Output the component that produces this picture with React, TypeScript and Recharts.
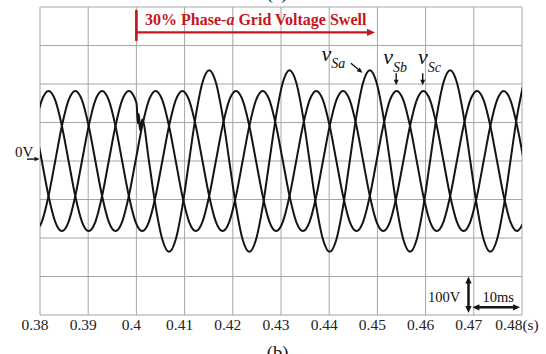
import { LineChart, Line, XAxis, YAxis, CartesianGrid, ReferenceLine, ReferenceDot } from 'recharts';

const SERIF = '"Liberation Serif", "Times New Roman", serif';
const RED = '#c4161c';
const INK = '#141414';

// sample instants in ms (30 deg steps at 60 Hz, plus the switching transient near 400 ms)
const timeMs = [
  378.99, 380.38, 381.77, 383.16, 384.54, 385.93, 387.32, 388.71, 390.10, 391.49, 392.88, 394.27, 395.66, 397.04, 398.43, 399.82,
  400.05, 400.30, 400.50, 400.75,
  401.21, 402.60, 403.99, 405.38, 406.77, 408.16, 409.54, 410.93, 412.32, 413.71, 415.10,
  416.49, 417.88, 419.27, 420.66, 422.04, 423.43, 424.82, 426.21, 427.60, 428.99, 430.38, 431.77,
  433.16, 434.54, 435.93, 437.32, 438.71, 440.10, 441.49, 442.88, 444.27, 445.66, 447.04, 448.43,
  449.82, 451.21, 452.60, 453.99, 455.38, 456.77, 458.16, 459.54, 460.93, 462.32, 463.71, 465.10,
  466.49, 467.88, 469.27, 470.66, 472.04, 473.43, 474.82, 476.21, 477.60, 478.99, 480.38,
];

// grid voltages in V (100 V per division)
const phaseA = [
  91, 158, 182, 158, 91, 0, -91, -158, -182, -158, -91, 0, 91, 158, 182, 158,
  148, 98, 122, 80,
  108, 0, -118, -204, -236, -204, -118, 0, 118, 204, 236,
  204, 118, 0, -118, -204, -236, -204, -118, 0, 118, 204, 236,
  204, 118, 0, -118, -204, -236, -204, -118, 0, 118, 204, 236,
  204, 118, 0, -118, -204, -236, -204, -118, 0, 118, 204, 236,
  204, 118, 0, -118, -204, -236, -204, -118, 0, 118, 204,
];

const phaseB = [
  -182, -158, -91, 0, 91, 158, 182, 158, 91, 0, -91, -158, -182, -158, -91, 0,
  null, null, null, null,
  91, 158, 182, 158, 91, 0, -91, -158, -182, -158, -91,
  0, 91, 158, 182, 158, 91, 0, -91, -158, -182, -158, -91,
  0, 91, 158, 182, 158, 91, 0, -91, -158, -182, -158, -91,
  0, 91, 158, 182, 158, 91, 0, -91, -158, -182, -158, -91,
  0, 91, 158, 182, 158, 91, 0, -91, -158, -182, -158,
];

const phaseC = [
  91, 0, -91, -158, -182, -158, -91, 0, 91, 158, 182, 158, 91, 0, -91, -158,
  null, null, null, null,
  -182, -158, -91, 0, 91, 158, 182, 158, 91, 0, -91,
  -158, -182, -158, -91, 0, 91, 158, 182, 158, 91, 0, -91,
  -158, -182, -158, -91, 0, 91, 158, 182, 158, 91, 0, -91,
  -158, -182, -158, -91, 0, 91, 158, 182, 158, 91, 0, -91,
  -158, -182, -158, -91, 0, 91, 158, 182, 158, 91, 0,
];

const xTicks = [380, 390, 400, 410, 420, 430, 440, 450, 460, 470, 480];
const xTickLabels = ['0.38', '0.39', '0.4', '0.41', '0.42', '0.43', '0.44', '0.45', '0.46', '0.47', '0.48(s)'];
const yTicks = [-400, -300, -200, -100, 0, 100, 200, 300, 400];

const data = timeMs.map((t, i) => ({ t, va: phaseA[i], vb: phaseB[i], vc: phaseC[i] }));

const TimeTick = ({ x, y, payload }: any) => (
  <text x={x - 5} y={y} dy="0.71em" textAnchor="middle" fontSize={15.5} fontFamily={SERIF} fill="#222">
    {xTickLabels[xTicks.indexOf(payload.value)]}
  </text>
);

// line with filled arrow head(s)
const arrow = (color: string, width: number, head: number, both = false) => (p: any) => {
  const { x1, y1, x2, y2 } = p;
  const dx = x2 - x1;
  const dy = y2 - y1;
  const len = Math.hypot(dx, dy) || 1;
  const ux = dx / len;
  const uy = dy / len;
  const nx = -uy;
  const ny = ux;
  const w = head * 0.45;
  const tip = (tx: number, ty: number, s: number) => {
    const bx = tx - s * ux * head;
    const by = ty - s * uy * head;
    return `${tx},${ty} ${bx + nx * w},${by + ny * w} ${bx - nx * w},${by - ny * w}`;
  };
  const sx = both ? x1 + ux * head * 0.8 : x1;
  const sy = both ? y1 + uy * head * 0.8 : y1;
  return (
    <g>
      <line x1={sx} y1={sy} x2={x2 - ux * head * 0.8} y2={y2 - uy * head * 0.8} stroke={color} strokeWidth={width} />
      <polygon points={tip(x2, y2, 1)} fill={color} />
      {both && <polygon points={tip(x1, y1, -1)} fill={color} />}
    </g>
  );
};

const plainLine = (color: string, width: number) => (p: any) => (
  <line x1={p.x1} y1={p.y1} x2={p.x2} y2={p.y2} stroke={color} strokeWidth={width} />
);

const textAt = (content: any, size: number, opts: any = {}) => (p: any) => (
  <text x={p.cx} y={p.cy} fontSize={size} fontFamily={SERIF} fill={opts.fill || '#111'}
    textAnchor={opts.anchor || 'start'} fontWeight={opts.weight || 'normal'} fontStyle={opts.style || 'normal'}>
    {content}
  </text>
);

const phaseLabel = (sub: string, drop: number) => textAt(
  <>
    <tspan fontSize={22}>v</tspan>
    <tspan fontSize={14} dy={drop}>{sub}</tspan>
  </>,
  22,
  { style: 'italic' },
);

export default function App() {
  return (
    <div style={{ position: 'absolute', left: 0, top: 0, width: 546, height: 354, background: '#fff' }}>
      <LineChart width={546} height={354} data={data} margin={{ top: 7, right: 24, bottom: 9, left: 40 }}>
        <CartesianGrid stroke="#a6a6a6" strokeWidth={1} horizontalValues={yTicks} verticalValues={xTicks} />
        <XAxis
          dataKey="t"
          type="number"
          domain={[380, 480]}
          ticks={xTicks}
          allowDataOverflow
          height={30}
          tickLine={false}
          axisLine={false}
          tickSize={0}
          tickMargin={4}
          tick={<TimeTick />}
          interval={0}
        />
        <YAxis type="number" domain={[-400, 400]} ticks={yTicks} allowDataOverflow hide />

        <Line dataKey="vb" type="monotone" stroke={INK} strokeWidth={2} dot={false} activeDot={false} connectNulls isAnimationActive={false} />
        <Line dataKey="vc" type="monotone" stroke={INK} strokeWidth={2} dot={false} activeDot={false} connectNulls isAnimationActive={false} />
        <Line dataKey="va" type="monotone" stroke={INK} strokeWidth={2} dot={false} activeDot={false} isAnimationActive={false} />

        {/* swell event marker */}
        <ReferenceLine segment={[{ x: 400, y: 392 }, { x: 400, y: 312 }]} ifOverflow="visible" shape={plainLine(RED, 2.7)} />
        <ReferenceLine segment={[{ x: 400, y: 334 }, { x: 449.5, y: 334 }]} ifOverflow="visible" shape={arrow(RED, 2.2, 8)} />
        <ReferenceDot x={401.8} y={353} r={0} ifOverflow="visible"
          shape={textAt(<>30% Phase-<tspan fontStyle="italic">a</tspan> Grid Voltage Swell</>, 16, { fill: RED, weight: 'bold' })} />

        {/* phase labels */}
        <ReferenceDot x={438.4} y={260} r={0} ifOverflow="visible" shape={phaseLabel('Sa', 6.6)} />
        <ReferenceDot x={451.2} y={252} r={0} ifOverflow="visible" shape={phaseLabel('Sb', 7.7)} />
        <ReferenceDot x={458.4} y={252} r={0} ifOverflow="visible" shape={phaseLabel('Sc', 7.7)} />
        <ReferenceLine segment={[{ x: 444.5, y: 254 }, { x: 446.9, y: 229 }]} ifOverflow="visible" shape={arrow(INK, 1.4, 5.5)} />
        <ReferenceLine segment={[{ x: 453.9, y: 228 }, { x: 453.9, y: 197 }]} ifOverflow="visible" shape={arrow(INK, 1.4, 5.5)} />
        <ReferenceLine segment={[{ x: 459.4, y: 228 }, { x: 459.4, y: 197 }]} ifOverflow="visible" shape={arrow(INK, 1.4, 5.5)} />

        {/* zero reference */}
        <ReferenceDot x={374.8} y={10} r={0} ifOverflow="visible" shape={textAt('0V', 15)} />
        <ReferenceLine segment={[{ x: 377.3, y: 5 }, { x: 379.9, y: 5 }]} ifOverflow="visible" shape={arrow(INK, 1.4, 5)} />

        {/* scale bars */}
        <ReferenceDot x={460.5} y={-367} r={0} ifOverflow="visible" shape={textAt('100V', 14.5)} />
        <ReferenceLine segment={[{ x: 468.9, y: -300 }, { x: 468.9, y: -395 }]} ifOverflow="visible" shape={arrow(INK, 2.5, 7, true)} />
        <ReferenceDot x={471.8} y={-365} r={0} ifOverflow="visible" shape={textAt('10ms', 14.5)} />
        <ReferenceLine segment={[{ x: 469.7, y: -380 }, { x: 479.6, y: -380 }]} ifOverflow="visible" shape={arrow(INK, 2.5, 7, true)} />

        {/* panel captions */}
        <ReferenceDot x={429.2} y={421} r={0} ifOverflow="visible" shape={textAt('(a)', 18.5, { anchor: 'middle' })} />
        <ReferenceDot x={429.3} y={-514} r={0} ifOverflow="visible" shape={textAt('(b)', 18.5, { anchor: 'middle' })} />
      </LineChart>
    </div>
  );
}
